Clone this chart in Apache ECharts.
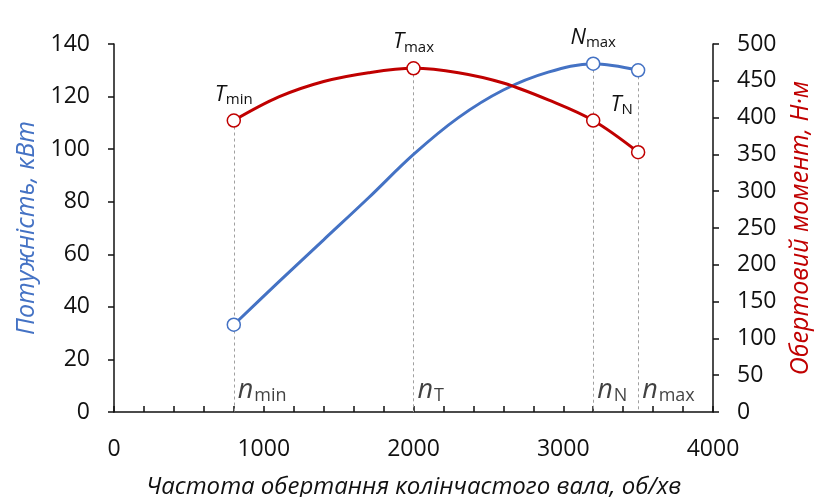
<!DOCTYPE html>
<html>
<head>
<meta charset="utf-8">
<script src="https://cdn.jsdelivr.net/npm/echarts@6/dist/echarts.min.js"></script>
<style>
  html, body { margin: 0; padding: 0; background: #fff; }
  #main { width: 815px; height: 497px; }
</style>
</head>
<body>
<div id="main"></div>
<script>
// частота обертання, об/хв
var rpm = [800, 1100, 1400, 1700, 2000, 2300, 2600, 2900, 3200, 3500];
// потужність, кВт
var power = [33.2, 49.5, 65.5, 81.5, 98, 112, 122.5, 129.3, 132.5, 130];
// обертовий момент, Н·м
var torque = [396, 428, 449, 461, 467, 461, 447, 424, 396, 353];

var torqueMarks = [800, 2000, 3200, 3500];
var powerMarks = [800, 3200, 3500];
var torqueNames = { 800: 'min', 2000: 'max', 3200: 'N' };
var powerNames = { 3200: 'max' };
var nLabelRpm = [800, 2000, 3200, 3500];
var nLabelSub = ['min', 'T', 'N', 'max'];
var nLabelLevel = 7.5;

var blue = '#4472c4';
var red = '#c00000';
var font = 'Open Sans';

var rich = {
  i: { fontFamily: font, fontStyle: 'italic', fontSize: 22, lineHeight: 22, color: '#111', padding: [0, 0, 4, 0] },
  s: { fontFamily: font, fontSize: 15, lineHeight: 15, color: '#111', verticalAlign: 'bottom' }
};
var richN = {
  i: { fontFamily: font, fontStyle: 'italic', fontSize: 27, lineHeight: 26, color: '#111', padding: [0, 1, 4, 0] },
  s: { fontFamily: font, fontSize: 18, lineHeight: 18, color: '#111', verticalAlign: 'bottom' }
};

function markerItem(n, val, letter, names, marks) {
  var item = { value: [n, val] };
  if (marks.indexOf(n) < 0) {
    item.symbol = 'none';
    return item;
  }
  if (names[n]) {
    item.label = {
      show: true,
      position: 'top',
      distance: 6,
      formatter: '{i|' + letter + '}{s|' + names[n] + '}',
      rich: rich
    };
    if (letter === 'T' && n === 3200) {
      item.label.position = 'right';
      item.label.offset = [4, -14];
    }
  }
  return item;
}

var torqueData = rpm.map(function (n, i) { return markerItem(n, torque[i], 'T', torqueNames, torqueMarks); });
var powerData = rpm.map(function (n, i) { return markerItem(n, power[i], 'N', powerNames, powerMarks); });

function dropLines(marks, values) {
  return marks.map(function (n) {
    var v = values[rpm.indexOf(n)];
    return [{ coord: [n, v] }, { coord: [n, 0] }];
  });
}

var markStyle = { color: '#a0a0a0', type: [3, 3], width: 1 };
var axisColor = '#111';

var chart = echarts.init(document.getElementById('main'));
chart.setOption({
  animation: false,
  backgroundColor: '#fff',
  grid: { left: 114, right: 102, top: 44, bottom: 85, containLabel: false, outerBoundsMode: 'none' },
  xAxis: {
    type: 'value',
    min: 0,
    max: 4000,
    interval: 1000,
    name: 'Частота обертання колінчастого вала, об/хв',
    nameLocation: 'middle',
    nameGap: 63,
    nameTextStyle: { fontFamily: font, fontStyle: 'italic', fontSize: 24, color: '#111' },
    axisLine: { lineStyle: { color: axisColor, width: 1.5 } },
    axisTick: { inside: true, length: 6, lineStyle: { color: axisColor, width: 1.5 } },
    minorTick: { show: true, splitNumber: 5, length: 6, lineStyle: { color: axisColor, width: 1.5 } },
    axisLabel: { margin: 26, fontFamily: font, fontSize: 23, color: '#111', formatter: function (v) { return String(v); } },
    splitLine: { show: false }
  },
  yAxis: [{
    type: 'value',
    min: 0,
    max: 140,
    interval: 20,
    position: 'left',
    name: 'Потужність, кВт',
    nameLocation: 'middle',
    nameGap: 74,
    nameTextStyle: { fontFamily: font, fontStyle: 'italic', fontSize: 25, color: blue },
    axisLine: { show: true, lineStyle: { color: axisColor, width: 1.5 } },
    axisTick: { show: true, length: 6, lineStyle: { color: axisColor, width: 1.5 } },
    axisLabel: { margin: 24, fontFamily: font, fontSize: 23, color: '#111' },
    splitLine: { show: false }
  }, {
    type: 'value',
    min: 0,
    max: 500,
    interval: 50,
    position: 'right',
    name: 'Обертовий момент, Н·м',
    nameLocation: 'middle',
    nameGap: 75,
    nameTextStyle: { fontFamily: font, fontStyle: 'italic', fontSize: 25, color: red },
    axisLine: { show: true, lineStyle: { color: axisColor, width: 1.5 } },
    axisTick: { show: true, length: 6, lineStyle: { color: axisColor, width: 1.5 } },
    axisLabel: { margin: 24, fontFamily: font, fontSize: 23, color: '#111' },
    splitLine: { show: false }
  }],
  series: [{
    name: 'Потужність',
    type: 'line',
    yAxisIndex: 0,
    smooth: 0.35,
    z: 3,
    data: powerData,
    symbol: 'circle',
    symbolSize: 13,
    lineStyle: { color: blue, width: 3 },
    itemStyle: { color: '#fff', borderColor: blue, borderWidth: 1.5 },
    markLine: {
      silent: true,
      z: 1,
      symbol: 'none',
      label: { show: false },
      lineStyle: markStyle,
      data: dropLines([3200, 3500], power)
    }
  }, {
    name: 'Обертовий момент',
    type: 'line',
    yAxisIndex: 1,
    smooth: 0.35,
    z: 4,
    data: torqueData,
    symbol: 'circle',
    symbolSize: 13,
    lineStyle: { color: red, width: 3 },
    itemStyle: { color: '#fff', borderColor: red, borderWidth: 1.5 },
    markLine: {
      silent: true,
      z: 1,
      symbol: 'none',
      label: { show: false },
      lineStyle: markStyle,
      data: dropLines([800, 2000], torque)
    }
  }, {
    type: 'scatter',
    yAxisIndex: 0,
    symbolSize: 0,
    silent: true,
    data: nLabelRpm.map(function (n) { return [n, nLabelLevel]; }),
    label: {
      show: true,
      position: 'right',
      distance: 4,
      formatter: function (p) { return '{i|n}{s|' + nLabelSub[p.dataIndex] + '}'; },
      rich: richN
    }
  }]
});
</script>
</body>
</html>
